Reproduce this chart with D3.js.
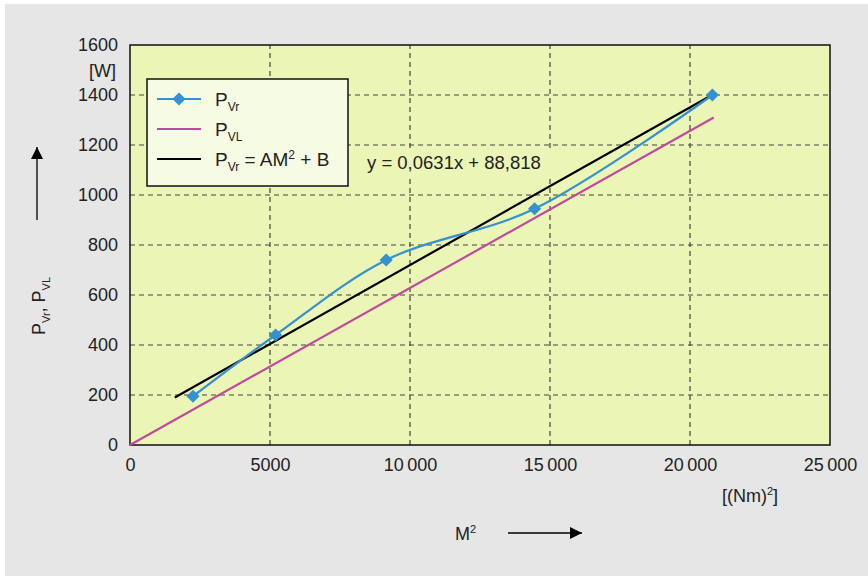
<!DOCTYPE html>
<html>
<head>
<meta charset="utf-8">
<script src="https://cdn.jsdelivr.net/npm/d3@7"></script>
<style>
  body { margin: 0; background: #ffffff; }
  text { font-family: "Liberation Sans", Arial, sans-serif; fill: #222; }
</style>
</head>
<body>
<svg id="drawing_region"></svg>
<script>
// measured points P_Vr
const mSquared = [2250, 5200, 9150, 14450, 20800];
const pVr = [195, 440, 740, 945, 1400];
// P_VL straight line
const pVLx = [0, 20850];
const pVLy = [0, 1310];
// regression y = 0,0631x + 88,818
const fitA = 0.0631, fitB = 88.818;
const fitX = [1600, 20800];
const xTicks = [0, 5000, 10000, 15000, 20000, 25000];
const yTicks = [0, 200, 400, 600, 800, 1000, 1200, 1400, 1600];
const legendLabels = ["Vr", "VL", "Vr"];

const width = 868, height = 576;
const margin = {top: 45, right: 38, bottom: 131, left: 130};

const svg = d3.select('#drawing_region')
    .attr('width', width)
    .attr('height', height);

svg.append('rect')
    .attr('x', 5).attr('y', 4)
    .attr('width', width - 5).attr('height', height - 4)
    .attr('fill', '#e6e6e6');

const x = d3.scaleLinear().domain([0, 25000]).range([margin.left, width - margin.right]);
const y = d3.scaleLinear().domain([0, 1600]).range([height - margin.bottom, margin.top]);

// plot background
svg.append('rect')
    .attr('x', x(0)).attr('y', y(1600))
    .attr('width', x(25000) - x(0)).attr('height', y(0) - y(1600))
    .attr('fill', '#eaf5b6');

// grid
const grid = svg.append('g');
grid.selectAll('.gx')
    .data(xTicks.slice(1, -1))
    .enter().append('line')
    .attr('x1', d => x(d)).attr('x2', d => x(d))
    .attr('y1', y(0)).attr('y2', y(1600))
    .attr('stroke', '#444').attr('stroke-width', 1.2)
    .attr('stroke-dasharray', '5,4');
grid.selectAll('.gy')
    .data(yTicks.slice(1, -1))
    .enter().append('line')
    .attr('y1', d => y(d)).attr('y2', d => y(d))
    .attr('x1', x(0)).attr('x2', x(25000))
    .attr('stroke', '#444').attr('stroke-width', 1.2)
    .attr('stroke-dasharray', '5,4');

// axes labels
const xAxis = d3.axisBottom(x).tickValues(xTicks).tickSize(0).tickPadding(13)
    .tickFormat(d => d >= 10000 ? d3.format('d')(d).replace(/(\d\d)(\d{3})$/, '$1\u2009$2') : d3.format('d')(d));
const gx = svg.append('g')
    .attr('transform', `translate(0,${y(0)})`)
    .call(xAxis);
gx.select('.domain').remove();
gx.selectAll('text').attr('font-size', 18).attr('fill', '#222');

const yAxis = d3.axisLeft(y).tickValues(yTicks).tickSize(0).tickPadding(12)
    .tickFormat(d3.format('d'));
const gy = svg.append('g')
    .attr('transform', `translate(${x(0)},0)`)
    .call(yAxis);
gy.select('.domain').remove();
gy.selectAll('text').attr('font-size', 18).attr('fill', '#222');

// equation background (hides grid under the label)
svg.append('rect')
    .attr('x', 362).attr('y', 150).attr('width', 196).attr('height', 26)
    .attr('fill', '#eaf5b6');

// border
svg.append('rect')
    .attr('x', x(0)).attr('y', y(1600))
    .attr('width', x(25000) - x(0)).attr('height', y(0) - y(1600))
    .attr('fill', 'none').attr('stroke', '#111').attr('stroke-width', 1.5);

// P_VL line
svg.append('line')
    .attr('x1', x(pVLx[0])).attr('y1', y(pVLy[0]))
    .attr('x2', x(pVLx[1])).attr('y2', y(pVLy[1]))
    .attr('stroke', '#c04a9c').attr('stroke-width', 2.2);

// regression line
svg.append('line')
    .attr('x1', x(fitX[0])).attr('y1', y(fitA * fitX[0] + fitB))
    .attr('x2', x(fitX[1])).attr('y2', y(fitA * fitX[1] + fitB))
    .attr('stroke', '#000').attr('stroke-width', 2.2);

// P_Vr curve
const pts = mSquared.map((m, i) => [m, pVr[i]]);
const line = d3.line().x(d => x(d[0])).y(d => y(d[1])).curve(d3.curveCatmullRom.alpha(0.5));
svg.append('path')
    .attr('d', line(pts))
    .attr('fill', 'none').attr('stroke', '#3591cf').attr('stroke-width', 2.2);

const diamond = d3.symbol().type(d3.symbolDiamond2).size(110);
svg.selectAll('.pt')
    .data(pts)
    .enter().append('path')
    .attr('d', diamond)
    .attr('transform', d => `translate(${x(d[0])},${y(d[1])})`)
    .attr('fill', '#3591cf');

// equation
svg.append('text')
    .attr('x', 367).attr('y', 169)
    .attr('font-size', 18.5)
    .text('y = 0,0631x + 88,818');

// legend
const legend = svg.append('g');
legend.append('rect')
    .attr('x', 147).attr('y', 79).attr('width', 201).attr('height', 107)
    .attr('fill', '#f6fbe3').attr('stroke', '#111').attr('stroke-width', 1.5);
const legendColors = ['#3591cf', '#c04a9c', '#000'];
legendLabels.forEach((lab, i) => {
    const cy = 99 + i * 30;
    legend.append('line')
        .attr('x1', 157).attr('x2', 201).attr('y1', cy).attr('y2', cy)
        .attr('stroke', legendColors[i]).attr('stroke-width', 2.2);
    if (i === 0) {
        legend.append('path').attr('d', diamond)
            .attr('transform', `translate(179,${cy})`).attr('fill', '#3591cf');
    }
    const t = legend.append('text').attr('x', 215).attr('y', cy + 7).attr('font-size', 19);
    t.append('tspan').text('P');
    t.append('tspan').attr('font-size', 12).attr('dy', 5).text(lab);
    if (i === 2) {
        t.append('tspan').attr('dy', -5).text(' = AM');
        t.append('tspan').attr('font-size', 12).attr('dy', -7).text('2');
        t.append('tspan').attr('dy', 7).text(' + B');
    }
});

// units
svg.append('text')
    .attr('x', 116).attr('y', 77).attr('text-anchor', 'end')
    .attr('font-size', 18).text('[W]');
const nm = svg.append('text')
    .attr('x', 722).attr('y', 502).attr('font-size', 18);
nm.append('tspan').text('[(Nm)');
nm.append('tspan').attr('font-size', 11).attr('dy', -7).text('2');
nm.append('tspan').attr('dy', 7).text(']');

// arrow marker
svg.append('defs').append('marker')
    .attr('id', 'arrow').attr('viewBox', '0 0 10 10')
    .attr('refX', 10).attr('refY', 5)
    .attr('markerWidth', 12).attr('markerHeight', 12)
    .attr('markerUnits', 'userSpaceOnUse')
    .attr('orient', 'auto')
    .append('path').attr('d', 'M0,0 L10,5 L0,10 Z').attr('fill', '#000');

// x title
const xt = svg.append('text').attr('x', 455).attr('y', 540).attr('font-size', 18);
xt.append('tspan').text('M');
xt.append('tspan').attr('font-size', 11).attr('dy', -7).text('2');
svg.append('line')
    .attr('x1', 508).attr('x2', 582).attr('y1', 533).attr('y2', 533)
    .attr('stroke', '#000').attr('stroke-width', 1.3)
    .attr('marker-end', 'url(#arrow)');

// y title
const yt = svg.append('text')
    .attr('transform', 'translate(45,335) rotate(-90)')
    .attr('font-size', 18);
yt.append('tspan').text('P');
yt.append('tspan').attr('font-size', 11).attr('dy', 5).text('Vr');
yt.append('tspan').attr('dy', -5).text(', P');
yt.append('tspan').attr('font-size', 11).attr('dy', 5).text('VL');
svg.append('line')
    .attr('x1', 37).attr('x2', 37).attr('y1', 220).attr('y2', 147)
    .attr('stroke', '#000').attr('stroke-width', 1.3)
    .attr('marker-end', 'url(#arrow)');
</script>
</body>
</html>
